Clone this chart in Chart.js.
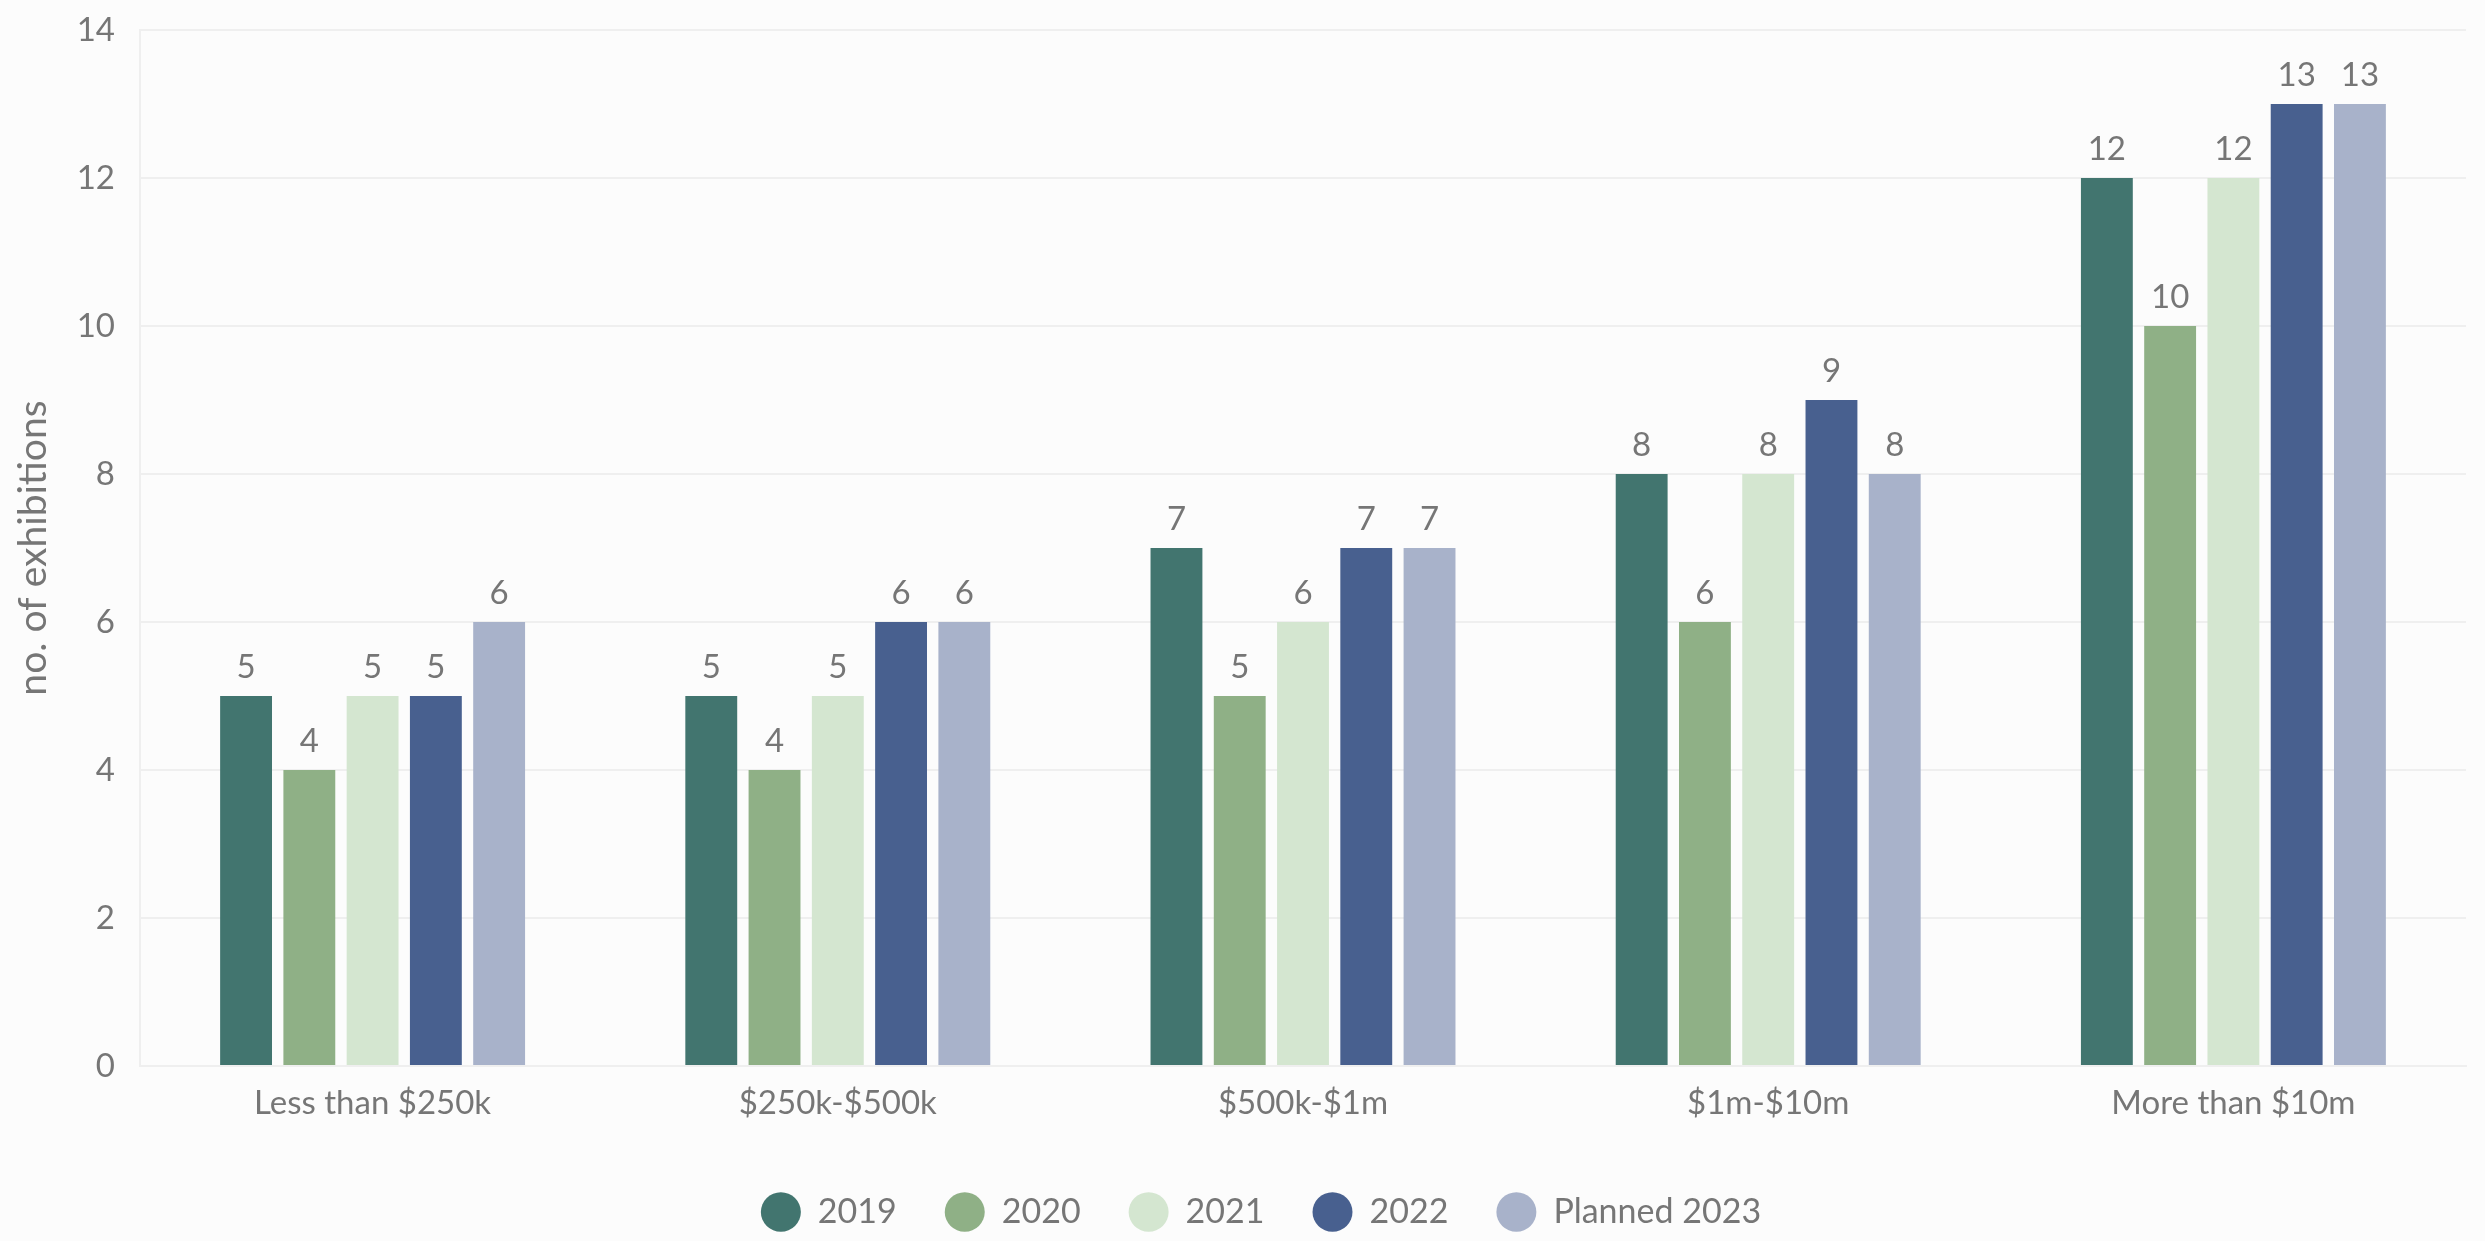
<!DOCTYPE html>
<html>
<head>
<meta charset="utf-8">
<script src="https://cdn.jsdelivr.net/npm/chart.js@4.4.0/dist/chart.umd.min.js"></script>
<style>
  html, body { margin: 0; padding: 0; background: #fcfcfc; }
  #wrap { width: 2485px; height: 1241px; }
</style>
</head>
<body>
<div id="wrap"><canvas id="c" width="2485" height="1241"></canvas></div>
<script>
const categories = ["Less than $250k", "$250k-$500k", "$500k-$1m", "$1m-$10m", "More than $10m"];
const seriesNames = ["2019", "2020", "2021", "2022", "Planned 2023"];
const values2019 = [5, 5, 7, 8, 12];
const values2020 = [4, 4, 5, 6, 10];
const values2021 = [5, 5, 6, 8, 12];
const values2022 = [5, 6, 7, 9, 13];
const valuesPlanned2023 = [6, 6, 7, 8, 13];
const yTicks = [0, 2, 4, 6, 8, 10, 12, 14];
const colors = ["#42756f", "#8fb086", "#d4e6d0", "#48608f", "#a8b2ca"];

const FONT = "Lato";
const TEXT = "#767676";

const seriesValues = [values2019, values2020, values2021, values2022, valuesPlanned2023];

const bgPlugin = {
  id: 'bg',
  beforeDraw(chart) {
    const ctx = chart.ctx;
    ctx.save();
    ctx.fillStyle = '#fcfcfc';
    ctx.fillRect(0, 0, chart.width, chart.height);
    ctx.restore();
  }
};

const legendLayoutPlugin = {
  id: 'legendLayout',
  beforeLayout(chart) {
    const lg = chart.legend;
    if (lg && !lg._patchedFit) {
      const orig = lg.fit.bind(lg);
      lg.fit = function () {
        orig();
        this.height = 94;
      };
      lg._patchedFit = true;
    }
  },
  afterLayout(chart) {
    const lg = chart.legend;
    if (lg) {
      lg.left += 28;
      lg.right += 28;
    }
  }
};

const labelPlugin = {
  id: 'valueLabels',
  afterDatasetsDraw(chart) {
    const ctx = chart.ctx;
    ctx.save();
    ctx.font = `33px ${FONT}`;
    ctx.fillStyle = TEXT;
    ctx.textAlign = 'center';
    ctx.textBaseline = 'alphabetic';
    chart.data.datasets.forEach((ds, i) => {
      const meta = chart.getDatasetMeta(i);
      meta.data.forEach((el, j) => {
        ctx.fillText(String(ds.data[j]), el.x, el.y - 18);
      });
    });
    ctx.restore();
  }
};

new Chart(document.getElementById('c'), {
  type: 'bar',
  data: {
    labels: categories,
    datasets: seriesNames.map((name, i) => ({
      label: name,
      data: seriesValues[i],
      backgroundColor: colors[i],
      borderWidth: 0,
      categoryPercentage: 0.68,
      barPercentage: 0.82
    }))
  },
  options: {
    responsive: false,
    animation: false,
    devicePixelRatio: 1,
    layout: { padding: { top: 30, right: 19, left: 0, bottom: 0 } },
    plugins: {
      legend: {
        position: 'bottom',
        labels: {
          usePointStyle: true,
          pointStyle: 'circle',
          boxHeight: 28,
          pointStyleWidth: 40,
          padding: 48,
          color: TEXT,
          font: { family: FONT, size: 34 }
        }
      },
      tooltip: { enabled: false }
    },
    scales: {
      x: {
        grid: { display: false, drawTicks: false },
        border: { color: '#efefef', width: 2 },
        ticks: { color: TEXT, font: { family: FONT, size: 33 }, padding: 18 },
        afterFit: (s) => { s.height = 81; }
      },
      y: {
        min: 0,
        max: 14,
        afterBuildTicks: (s) => { s.ticks = yTicks.map(v => ({ value: v })); },
        grid: { color: '#efefef', lineWidth: 2, drawTicks: false },
        border: { color: '#efefef', width: 2 },
        ticks: { color: TEXT, font: { family: FONT, size: 33 }, padding: 25 },
        title: {
          display: true,
          text: 'no. of exhibitions',
          color: TEXT,
          font: { family: FONT, size: 39 },
          padding: { top: 10, bottom: 0 }
        },
        afterFit: (s) => { s.width = 140; s.paddingTop = 0; s.paddingBottom = 0; }
      }
    }
  },
  plugins: [bgPlugin, legendLayoutPlugin, labelPlugin]
});
</script>
</body>
</html>
